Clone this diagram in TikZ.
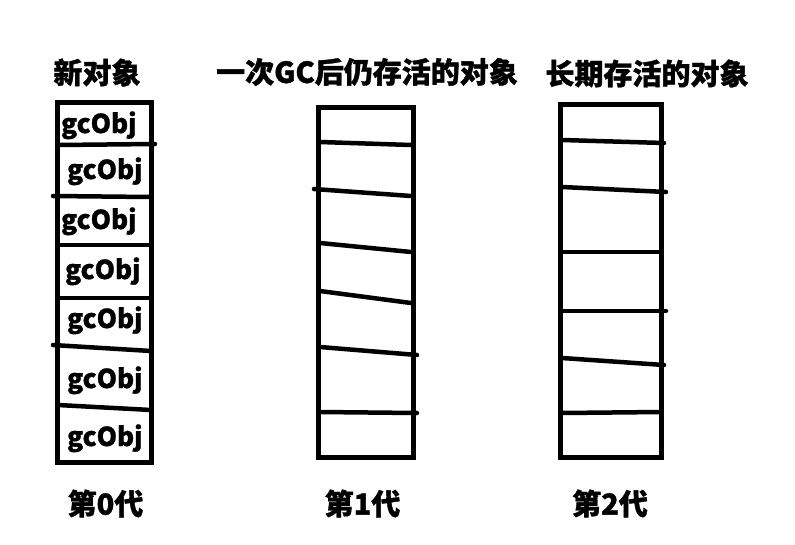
\documentclass[tikz,border=0pt]{standalone}
\usepackage{fontspec}
\setmainfont{Noto Sans CJK SC}[BoldFeatures={FakeBold=1.2}]
\begin{document}
\begin{tikzpicture}[x=1pt,y=-1pt,
  boxline/.style={line width=5pt},
  divline/.style={line width=4.5pt,line cap=round},
  title/.style={font=\fontsize{29}{32}\selectfont\bfseries,inner sep=0pt},
  obj/.style={font=\fontsize{26}{28}\selectfont\bfseries,inner sep=0pt,anchor=base west}]
\useasboundingbox (0,0) rectangle (795,544);
% column 0
\draw[boxline] (57.5,102.5) rectangle (151,462);
\draw[divline] (58,145) -- (155,144);
\draw[divline] (53,196) -- (151,197);
\draw[divline] (58,245) -- (151,245);
\draw[divline] (58,298) -- (151,298);
\draw[divline] (53,345) -- (151,351);
\draw[divline] (58,405) -- (151,410);
\node[obj] (o1) at (61,133) {gcObj};
\node[obj] (o2) at (67,179) {gcObj};
\node[obj] (o3) at (61,229) {gcObj};
\node[obj] (o4) at (65,279) {gcObj};
\node[obj] (o5) at (67,328) {gcObj};
\node[obj] (o6) at (67,388) {gcObj};
\node[obj] (o7) at (67,446) {gcObj};
% column 1
\draw[boxline] (318.5,107) rectangle (413,457);
\draw[divline] (320,142) -- (411,145);
\draw[divline] (314,189) -- (411,196);
\draw[divline] (320,243) -- (411,252);
\draw[divline] (320,291) -- (411,303);
\draw[divline] (320,347) -- (417,355);
\draw[divline] (320,412) -- (417,413);
% column 2
\draw[boxline] (560.5,104) rectangle (661,457);
\draw[divline] (562,140) -- (664,143);
\draw[divline] (562,187) -- (666,192);
\draw[divline] (562,252) -- (661,252);
\draw[divline] (562,311) -- (666,311);
\draw[divline] (562,358) -- (664,365);
\draw[divline] (562,413) -- (661,412);
% titles
\node[title] (t0) at (97,72.5) {新对象};
\node[title] (t1) at (367,72) {一次GC后仍存活的对象};
\node[title] (t2) at (647,73.5) {长期存活的对象};
\node[title] (g0) at (105.5,503.5) {第0代};
\node[title] (g1) at (362.5,503.5) {第1代};
\node[title] (g2) at (610,503.5) {第2代};
\end{tikzpicture}
\end{document}
